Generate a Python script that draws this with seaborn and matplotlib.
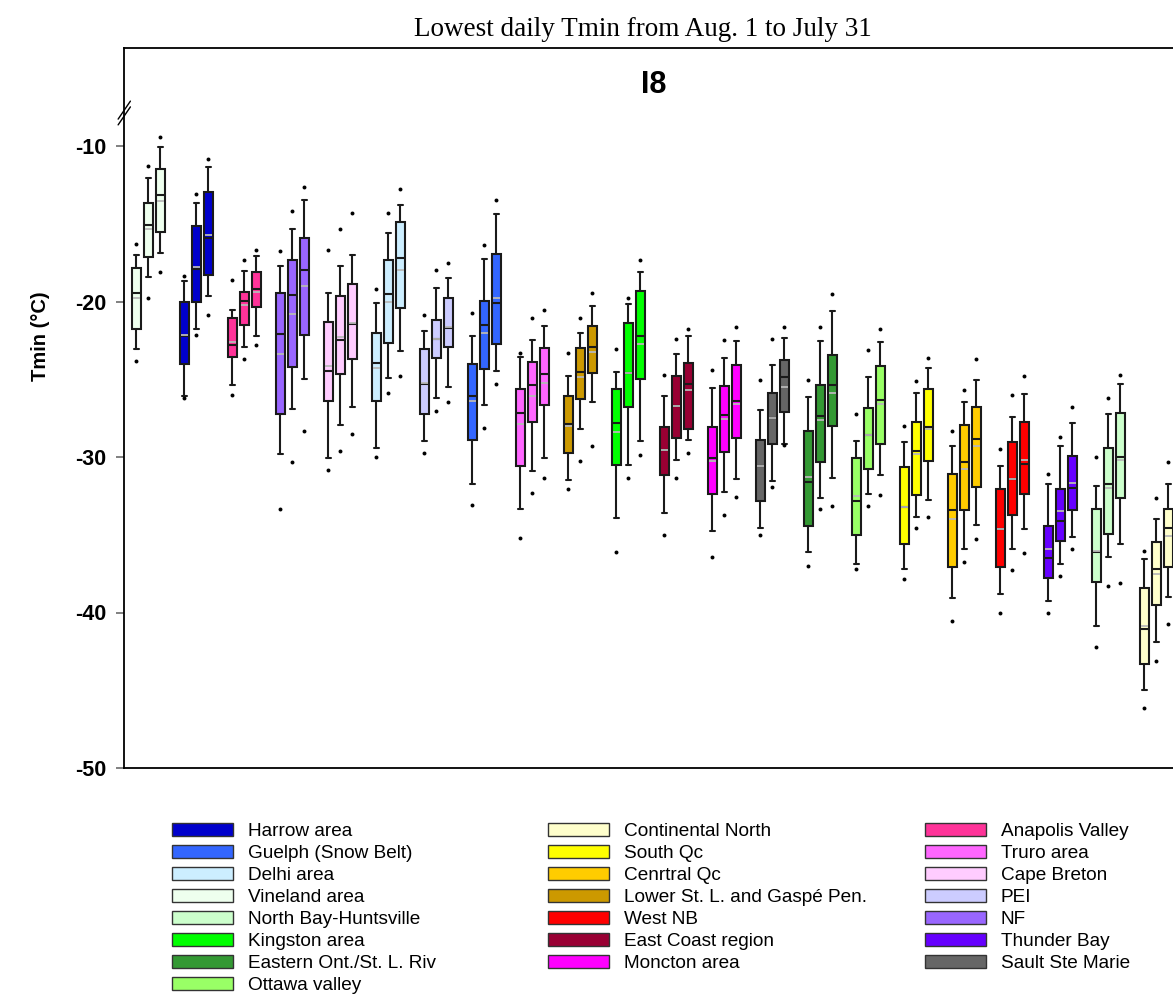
import numpy as np
import pandas as pd
import matplotlib
matplotlib.use("Agg")
import matplotlib.pyplot as plt
import seaborn as sns
from matplotlib.patches import Patch

# ---------------- data (plot order, left to right) ----------------
regions = ["Vineland area", "Harrow area", "Anapolis Valley", "NF", "Cape Breton",
           "Delhi area", "PEI", "Guelph (Snow Belt)", "Truro area",
           "Lower St. L. and Gaspé Pen.", "Kingston area", "East Coast region",
           "Moncton area", "Sault Ste Marie", "Eastern Ont./St. L. Riv",
           "Ottawa valley", "South Qc", "Cenrtral Qc", "West NB", "Thunder Bay",
           "North Bay-Huntsville", "Continental North"]
periods = ["P1", "P2", "P3"]

colors = {
    "Harrow area": "#0000CC", "Guelph (Snow Belt)": "#3366FF", "Delhi area": "#CCEEFF",
    "Vineland area": "#EEFFEE", "North Bay-Huntsville": "#CCFFCC", "Kingston area": "#00FF00",
    "Eastern Ont./St. L. Riv": "#339933", "Ottawa valley": "#99FF66",
    "Continental North": "#FFFFCC", "South Qc": "#FFFF00", "Cenrtral Qc": "#FFCC00",
    "Lower St. L. and Gaspé Pen.": "#CC9900", "West NB": "#FF0000",
    "East Coast region": "#990033", "Moncton area": "#FF00FF",
    "Anapolis Valley": "#FF3399", "Truro area": "#FF66FF", "Cape Breton": "#FFCCFF",
    "PEI": "#CCCCFF", "NF": "#9966FF", "Thunder Bay": "#6600FF", "Sault Ste Marie": "#666666",
}

legend_cols = [
    ["Harrow area", "Guelph (Snow Belt)", "Delhi area", "Vineland area",
     "North Bay-Huntsville", "Kingston area", "Eastern Ont./St. L. Riv", "Ottawa valley"],
    ["Continental North", "South Qc", "Cenrtral Qc", "Lower St. L. and Gaspé Pen.",
     "West NB", "East Coast region", "Moncton area"],
    ["Anapolis Valley", "Truro area", "Cape Breton", "PEI", "NF", "Thunder Bay",
     "Sault Ste Marie"],
]

p05 = [(-23.83, -19.78, -18.12), (-26.23, -22.15, -20.85), (-26.03, -23.72, -22.80),
       (-33.32, -30.32, -28.33), (-30.84, -29.63, -28.52), (-30.02, -25.88, -24.79),
       (-29.74, -27.04, -26.48), (-33.09, -28.11, -25.31), (-35.21, -32.32, -31.37),
       (-32.04, -30.28, -29.29), (-36.13, -31.37, -29.87), (-35.02, -31.37, -29.72),
       (-36.41, -33.73, -32.59), (-35.04, -31.93, -29.23), (-37.01, -33.32, -33.13),
       (-37.22, -33.13, -32.44), (-37.82, -34.57, -33.88), (-40.57, -36.73, -35.29),
       (-40.03, -37.25, -36.15), (-40.03, -37.63, -35.92), (-42.22, -38.32, -38.10),
       (-46.12, -43.12, -40.72)]
p10 = [(-23.05, -18.45, -16.86), (-26.06, -21.75, -19.65), (-25.35, -22.91, -22.24),
       (-29.81, -26.89, -25.00), (-30.04, -27.94, -26.78), (-29.44, -24.90, -23.16),
       (-28.99, -26.21, -25.50), (-31.76, -26.68, -24.47), (-33.32, -30.92, -30.09),
       (-31.48, -28.20, -26.46), (-33.94, -30.54, -28.99), (-33.62, -30.19, -28.91),
       (-34.74, -32.23, -31.40), (-34.54, -31.54, -29.16), (-36.09, -32.65, -31.35),
       (-36.88, -32.36, -31.14), (-37.22, -33.88, -32.75), (-39.05, -35.93, -34.35),
       (-38.81, -35.92, -34.65), (-39.26, -36.86, -35.14), (-40.85, -36.45, -35.59),
       (-45.00, -41.92, -39.02)]
q1 = [(-21.75, -17.14, -15.55), (-24.04, -20.05, -18.27), (-23.55, -21.51, -20.38),
      (-27.23, -24.23, -22.15), (-26.42, -24.64, -23.70), (-26.42, -22.69, -20.44),
      (-27.25, -23.65, -22.90), (-28.93, -24.34, -22.73), (-30.58, -27.73, -26.66),
      (-29.72, -26.29, -24.60), (-30.54, -26.78, -25.00), (-31.14, -28.80, -28.22),
      (-32.38, -29.68, -28.78), (-32.83, -29.14, -27.13), (-34.44, -30.34, -28.03),
      (-35.04, -30.75, -29.14), (-35.58, -32.44, -30.24), (-37.05, -33.43, -31.93),
      (-37.07, -33.75, -32.36), (-37.80, -35.42, -33.43), (-38.04, -34.93, -32.64),
      (-43.33, -39.54, -37.05)]
med = [(-19.43, -15.08, -13.15), (-22.20, -17.91, -15.94), (-22.82, -19.95, -19.22),
       (-22.09, -19.56, -17.95), (-24.45, -22.45, -21.45), (-23.93, -19.52, -17.20),
       (-25.33, -22.43, -21.68), (-26.06, -21.53, -20.12), (-27.15, -25.35, -24.68),
       (-27.86, -24.56, -22.95), (-27.83, -24.60, -22.24), (-29.57, -26.70, -25.33),
       (-30.04, -27.32, -26.42), (-30.60, -27.52, -24.83), (-31.63, -27.34, -25.39),
       (-32.83, -28.59, -26.35), (-33.19, -29.59, -28.05), (-33.43, -30.30, -28.84),
       (-34.63, -31.40, -30.47), (-36.47, -34.10, -31.99), (-36.13, -31.72, -29.98),
       (-41.08, -37.22, -34.59)]
mean = [(-19.76, -15.36, -13.51), (-22.15, -17.78, -15.74), (-22.58, -20.22, -19.41),
        (-23.35, -20.82, -19.02), (-24.15, -22.26, -21.40), (-24.30, -20.03, -17.97),
        (-25.22, -22.39, -21.64), (-26.42, -22.05, -19.80), (-27.90, -26.06, -25.26),
        (-27.99, -24.88, -23.27), (-28.37, -24.60, -22.73), (-29.57, -26.70, -25.67),
        (-30.26, -27.58, -26.59), (-30.60, -27.52, -25.52), (-31.27, -27.62, -25.90),
        (-32.53, -28.59, -26.61), (-33.19, -29.83, -28.20), (-33.97, -30.75, -29.27),
        (-34.63, -31.40, -30.17), (-35.90, -33.45, -31.67), (-36.05, -31.97, -30.21),
        (-40.89, -37.52, -35.10)]
q3 = [(-17.86, -13.67, -11.46), (-20.05, -15.14, -12.96), (-21.08, -19.41, -18.10),
      (-19.47, -17.35, -15.89), (-21.32, -19.65, -18.85), (-22.05, -17.35, -14.91),
      (-23.05, -21.17, -19.80), (-24.04, -19.97, -16.95), (-25.61, -23.87, -22.99),
      (-26.06, -22.97, -21.55), (-25.65, -21.36, -19.31), (-28.09, -24.81, -23.97),
      (-28.04, -25.41, -24.10), (-28.93, -25.86, -23.76), (-28.35, -25.35, -23.46),
      (-30.06, -26.87, -24.17), (-30.67, -27.77, -25.61), (-31.07, -27.92, -26.76),
      (-32.06, -29.04, -27.75), (-34.46, -32.06, -29.95), (-33.34, -29.44, -27.15),
      (-38.44, -35.45, -33.34)]
p90 = [(-17.01, -12.04, -10.06), (-18.70, -13.67, -11.37), (-20.55, -18.02, -17.07),
       (-17.72, -15.34, -13.47), (-19.45, -17.72, -16.99), (-20.08, -15.62, -13.79),
       (-21.92, -19.15, -18.47), (-22.20, -17.25, -14.35), (-23.55, -22.45, -21.55),
       (-24.79, -22.05, -20.27), (-24.51, -20.14, -18.10), (-26.06, -23.40, -22.24),
       (-25.58, -23.65, -22.56), (-27.00, -24.10, -22.33), (-26.12, -22.52, -20.61),
       (-28.95, -24.86, -22.60), (-29.06, -25.86, -24.26), (-29.29, -26.48, -25.05),
       (-30.56, -27.41, -25.95), (-31.72, -29.29, -27.79), (-31.84, -27.26, -25.29),
       (-36.54, -33.97, -31.74)]
p95 = [(-16.32, -11.29, -9.42), (-18.34, -13.06, -10.84), (-18.64, -17.35, -16.67),
       (-16.75, -14.16, -12.64), (-16.71, -15.32, -14.33), (-19.22, -14.33, -12.77),
       (-20.89, -17.97, -17.55), (-20.72, -16.37, -13.47), (-23.33, -21.04, -20.55),
       (-23.33, -21.04, -19.47), (-23.03, -19.80, -17.33), (-24.75, -22.43, -21.77),
       (-24.43, -22.48, -21.64), (-25.03, -22.43, -21.64), (-25.03, -21.64, -19.54),
       (-27.23, -23.14, -21.75), (-28.03, -25.13, -23.63), (-28.33, -25.69, -23.72),
       (-29.46, -26.03, -24.77), (-31.12, -28.74, -26.76), (-30.02, -26.23, -24.73),
       (-36.02, -32.64, -30.32)]

# ---------------- tables for seaborn ----------------
rows, mrows, drows = [], [], []
for i, reg in enumerate(regions):
    for k, per in enumerate(periods):
        pos = 4 * i + k
        for v in (p10[i][k], q1[i][k], med[i][k], q3[i][k], p90[i][k]):
            rows.append({"pos": pos, "region": reg, "period": per, "value": v})
        mrows.append({"pos": pos, "mean": mean[i][k]})
        drows.append({"pos": pos, "value": p05[i][k]})
        drows.append({"pos": pos, "value": p95[i][k]})
df = pd.DataFrame(rows)
dfm = pd.DataFrame(mrows)
dfd = pd.DataFrame(drows)

# ---------------- figure ----------------
sns.set_style("ticks")
plt.rcParams["font.family"] = ["Liberation Sans", "DejaVu Sans"]
plt.rcParams["text.color"] = "black"
plt.rcParams["axes.labelcolor"] = "black"
plt.rcParams["ytick.labelcolor"] = "black"

W, H = 1173, 1007
fig = plt.figure(figsize=(W / 100, H / 100), dpi=100)
xmin, xmax = -1.04, 88.0
ax_w = (xmax - xmin) * 12.0
ax = fig.add_axes([124 / W, 239 / H, ax_w / W, 720 / H])

sns.boxplot(data=df, x="pos", y="value", hue="region", palette=colors,
            hue_order=regions, native_scale=True, dodge=False, width=0.75,
            whis=(0, 100), saturation=1, linecolor="#1a1a1a", linewidth=1.5,
            showfliers=False, legend=False, ax=ax)

# mean lines (light gray)
ax.hlines(dfm["mean"], dfm["pos"] - 0.31, dfm["pos"] + 0.31,
          colors="#b8b8b8", linewidth=1.3, zorder=5)

# 5th / 95th percentile dots
sns.scatterplot(data=dfd, x="pos", y="value", color="black", s=8,
                linewidth=0, legend=False, ax=ax, zorder=6)

ax.set_xlim(xmin, xmax)
ax.set_ylim(-50, -50 + 720 / 15.55)
ax.set_xticks([])
ax.set_xlabel("")
ax.set_ylabel("")
ax.set_yticks([-10, -20, -30, -40, -50])
ax.set_yticklabels(["-10", "-20", "-30", "-40", "-50"], fontweight="bold", fontsize=15.5,
                   color="black")
ax.tick_params(axis="y", direction="out", length=5.5, width=1.4, color="#808080",
               pad=7)
for s in ["left", "top", "bottom"]:
    ax.spines[s].set_visible(True)
    ax.spines[s].set_color("black")
    ax.spines[s].set_linewidth(1.3)
ax.spines["right"].set_visible(False)

# axis break marks on the left spine
yb = 1 - (113 - 48) / 720
for dy in (-0.004, 0.004):
    ax.plot([-0.0055, 0.006], [yb + dy - 0.0125, yb + dy + 0.0125], transform=ax.transAxes,
            color="black", lw=1.0, clip_on=False, zorder=10)

ax.text(0.4955, 1 - (85 - 48) / 720, "I8", transform=ax.transAxes, ha="center",
        va="center", fontsize=22, fontweight="bold", color="black")

fig.text(643 / W, 1 - 29 / H, "Lowest daily Tmin from Aug. 1 to July 31",
         ha="center", va="center", fontsize=19.5, color="black",
         family=["Liberation Serif", "DejaVu Serif"])
fig.text(40 / W, 1 - 336 / H, "Tmin (°C)", rotation=90, ha="center", va="center",
         fontsize=14.5, fontweight="bold", color="black")

# legend in three columns
for xpix, names in zip((172, 548, 925), legend_cols):
    handles = [Patch(facecolor=colors[n], edgecolor="#333333", linewidth=1.0) for n in names]
    fig.legend(handles, names, loc="upper left", bbox_to_anchor=(xpix / W, 1 - 823 / H),
               frameon=False, fontsize=13.7, handlelength=3.2, handleheight=0.63,
               handletextpad=0.78, labelspacing=0.265, borderpad=0, borderaxespad=0,
               labelcolor="black")

fig.savefig("out.png", dpi=100)
